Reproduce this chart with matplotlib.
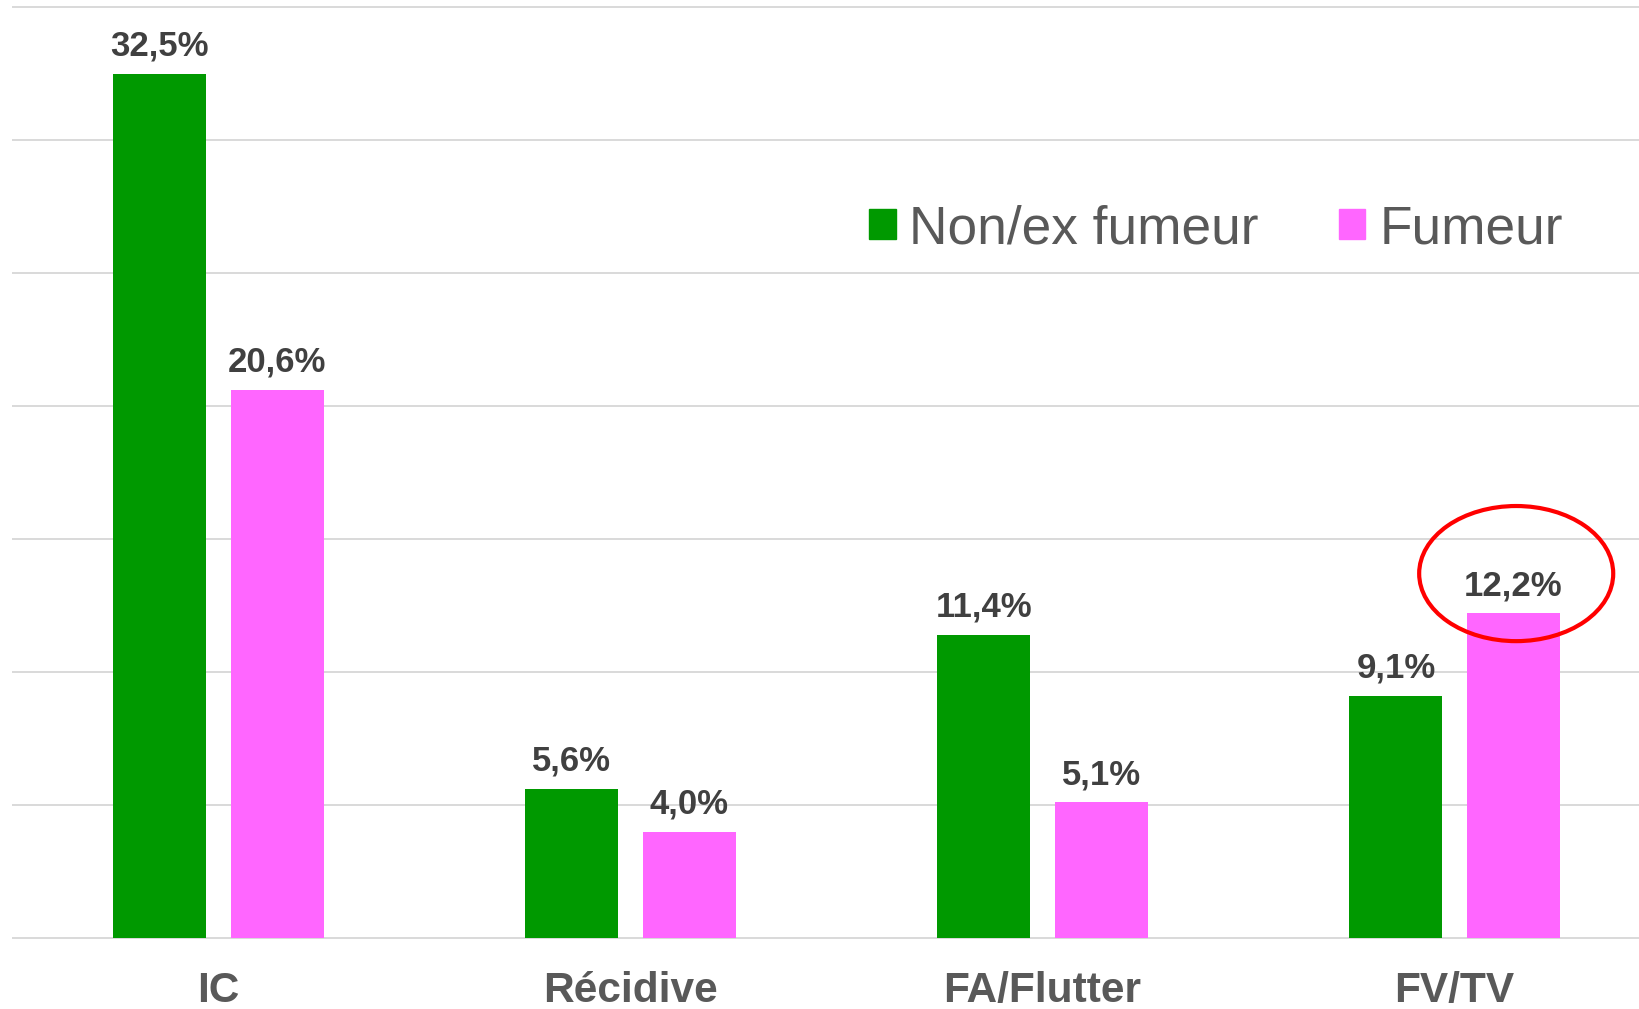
import matplotlib
matplotlib.use("Agg")
import matplotlib.pyplot as plt
from matplotlib.patches import Patch, Ellipse
import numpy as np

categories = ["IC", "Récidive", "FA/Flutter", "FV/TV"]
non_fumeur = [32.5, 5.6, 11.4, 9.1]
fumeur = [20.6, 4.0, 5.1, 12.2]
series_names = ["Non/ex fumeur", "Fumeur"]
yticks = [0, 5, 10, 15, 20, 25, 30, 35]

GREEN = "#009900"
PINK = "#FF66FF"
GRID = "#D9D9D9"

plt.rcParams['font.family'] = ['Liberation Sans', 'DejaVu Sans']

fig = plt.figure(figsize=(16.4, 10.09), dpi=100)
ax = fig.add_axes([12.6 / 1640, 71 / 1009, 1648 / 1640, 931 / 1009])

x = np.arange(len(categories))
w = 0.226
off = 0.1425
b1 = ax.bar(x - off, non_fumeur, w, color=GREEN, zorder=3)
b2 = ax.bar(x + off, fumeur, w, color=PINK, zorder=3)

for bars, vals in ((b1, non_fumeur), (b2, fumeur)):
    for r, v in zip(bars, vals):
        ax.annotate(f"{v:.1f}%".replace(".", ","),
                    (r.get_x() + r.get_width() / 2, v),
                    xytext=(0, 13), textcoords="offset points",
                    ha="center", va="baseline", fontsize=25,
                    fontweight="bold", color="#404040", zorder=4)

ax.set_xlim(-0.5, len(categories) - 0.5)
ax.set_ylim(0, 35)
ax.set_yticks(yticks)
ax.yaxis.grid(True, color=GRID, lw=1.4, zorder=0)
ax.tick_params(axis="y", length=0, labelleft=False)
for sp in ax.spines.values():
    sp.set_visible(False)
for gl in ax.yaxis.get_gridlines():
    gl.set_clip_on(False)

ax.set_xticks(x)
ax.set_xticklabels(categories, fontsize=30.5, fontweight="bold", color="#595959")
ax.tick_params(axis="x", length=0, pad=46)
for lab in ax.get_xticklabels():
    lab.set_va("baseline")

# red highlight ellipse around the FV/TV smoker value
ax.add_patch(Ellipse((x[3] + off + 0.007, fumeur[3] + 1.5), 0.471, 5.08,
                     fill=False, ec="#FF0000", lw=3, zorder=5, clip_on=False))

handles = [Patch(color=GREEN), Patch(color=PINK)]
leg = fig.legend(handles, series_names, loc="center left",
                 bbox_to_anchor=(869 / 1640, 1 - 229 / 1009),
                 ncol=2, frameon=False, fontsize=38.3, handlelength=0.5,
                 handleheight=0.5, handletextpad=0.26, columnspacing=1.5,
                 borderpad=0, borderaxespad=0)
for t in leg.get_texts():
    t.set_color("#595959")

fig.savefig("out.png", dpi=100)
